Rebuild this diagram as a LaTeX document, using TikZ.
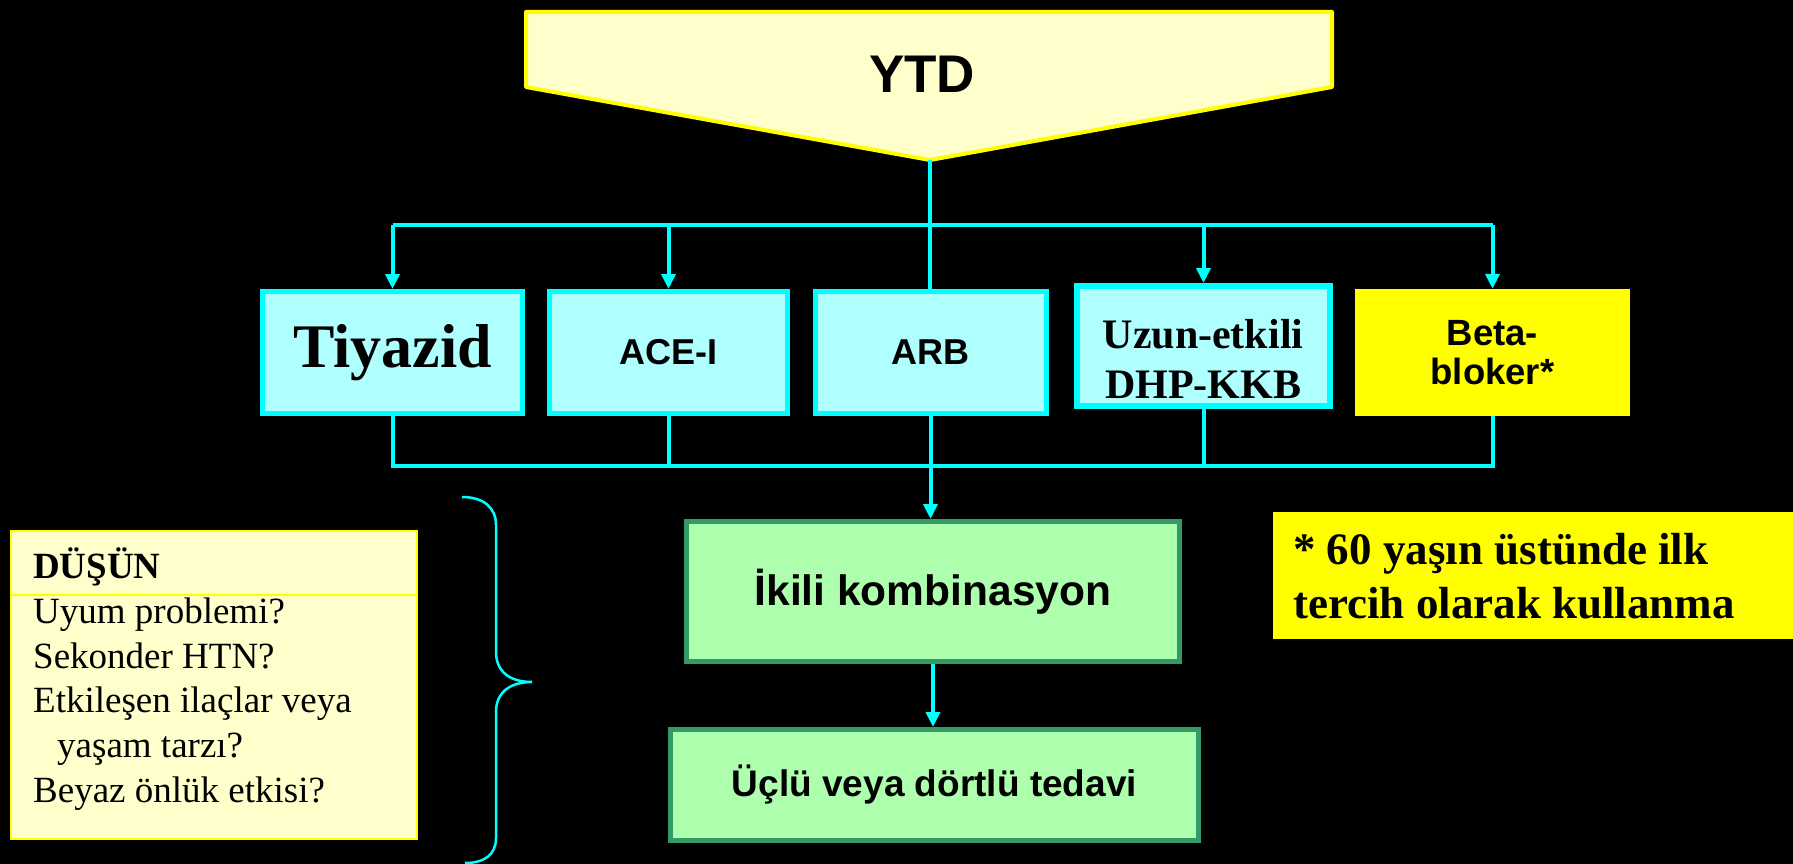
\documentclass[tikz,border=0pt]{standalone}
\usepackage{fontspec}
\setmainfont{Liberation Serif}
\newfontfamily\arialf{Liberation Sans}
\usetikzlibrary{arrows.meta}
\definecolor{cyanline}{HTML}{00FFFF}
\definecolor{cyanfill}{HTML}{B0FFFF}
\definecolor{greenfill}{HTML}{ADFFAD}
\definecolor{greenline}{HTML}{339966}
\definecolor{ytdfill}{HTML}{FFFFCC}
\definecolor{yel}{HTML}{FFFF00}
\definecolor{betainner}{HTML}{FFFF1E}
\tikzset{
  conn/.style={draw=cyanline, line width=4pt},
  arr/.style={conn, -{Triangle[width=14pt,length=15pt]}},
  cbox/.style={draw=cyanline, fill=cyanfill, line width=5pt, inner sep=0pt},
  gbox/.style={draw=greenline, fill=greenfill, line width=5pt, inner sep=0pt},
  sanslab/.style={font=\arialf\bfseries\fontsize{#1}{#1}\selectfont},
  seriflab/.style={font=\bfseries\fontsize{#1}{#1}\selectfont},
  listline/.style={anchor=base west, inner sep=0pt, font=\fontsize{37}{45}\selectfont},
}
\begin{document}
\begin{tikzpicture}[x=1pt,y=-1pt]
\useasboundingbox (0,0) rectangle (1793,864);
\fill[black] (0,0) rectangle (1793,864);

% YTD pentagon
\draw[draw=yel, fill=ytdfill, line width=4pt, line join=round]
  (526,12) -- (1332,12) -- (1332,87) -- (930,160) -- (526,87) -- cycle;
\node[sanslab=53, inner sep=0pt] (ytd) at (922,74) {YTD};
\coordinate (ytdtip) at (930,160);

% drug boxes
\node[cbox, minimum width=260pt, minimum height=122pt, seriflab=62] (tiy) at (392.5,352.5) {Tiyazid};
\node[cbox, minimum width=238pt, minimum height=122pt, sanslab=36] (ace) at (668.5,352.5) {ACE-I};
\node[cbox, minimum width=231pt, minimum height=122pt, sanslab=36] (arb) at (930.5,352.5) {ARB};
\node[cbox, line width=6pt, minimum width=253pt, minimum height=120pt] (uzun) at (1203.5,346) {};
\node[inner sep=0pt, align=center, font=\bfseries\fontsize{42}{50}\selectfont] (uzuntxt) at (1203,359) {Uzun-etkili\\DHP-KKB};
\node[fill=yel, draw=none, minimum width=275pt, minimum height=127pt, inner sep=0pt,
      align=center, font=\arialf\bfseries\fontsize{36.5}{39}\selectfont,
      path picture={\fill[betainner] (1419,310) rectangle (1566,401);}] (beta) at (1492.5,352.5) {Beta-\\bloker*};

% combination boxes
\node[gbox, minimum width=493pt, minimum height=140pt, sanslab=42.5] (ikili) at (933,591.5) {İkili kombinasyon};
\node[gbox, minimum width=528pt, minimum height=111pt, sanslab=37] (uclu) at (934.5,785) {Üçlü veya dörtlü tedavi};

% connectors
\coordinate (bus1) at (930,225);
\coordinate (bus2) at (930,466);
\draw[conn] (ytdtip) -- (ytdtip |- arb.north);
\draw[conn] (tiy.north |- bus1) -- (beta.north |- bus1);
\draw[arr] (tiy.north |- bus1) -- (tiy.north);
\draw[arr] (ace.north |- bus1) -- (ace.north);
\draw[arr] (uzun.north |- bus1) -- (uzun.north);
\draw[arr] (beta.north |- bus1) -- (beta.north);
\draw[conn] (tiy.south) -- (tiy.south |- bus2) -- (beta.south |- bus2) -- (beta.south);
\draw[conn] (ace.south) -- (ace.south |- bus2);
\draw[conn] (uzun.south) -- (uzun.south |- bus2);
\draw[arr] (arb.south) -- (arb.south |- ikili.north);
\draw[arr] (ikili.south) -- (ikili.south |- uclu.north);

% DUSUN box
\node[draw=yel, fill=ytdfill, line width=2.5pt, minimum width=406pt, minimum height=308pt, inner sep=0pt] (dusun) at (214,685) {};
\coordinate (dsep) at (214,595);
\draw[yel, line width=1.5pt] (dsep -| dusun.west) -- (dsep -| dusun.east);
\node[listline, font=\bfseries\fontsize{37}{45}\selectfont] (d0) at (33,578) {DÜŞÜN};
\node[listline] (d1) at (33,623) {Uyum problemi?};
\node[listline] (d2) at (33,668) {Sekonder HTN?};
\node[listline] (d3) at (33,712) {Etkileşen ilaçlar veya};
\node[listline] (d4) at (57,757) {yaşam tarzı?};
\node[listline] (d5) at (33,802) {Beyaz önlük etkisi?};

% brace
\draw[draw=cyanline, line width=2.5pt]
  (462,497) .. controls (484,497) and (496,508) .. (496,525)
  -- (496,652) .. controls (496,670) and (508,682) .. (532,682)
  .. controls (508,682) and (496,694) .. (496,712)
  -- (496,838) .. controls (496,855) and (484,863) .. (465,863);

% footnote box
\node[fill=yel, draw=none, minimum width=520pt, minimum height=127pt, inner sep=0pt] (note) at (1533,575.5) {};
\node[anchor=base west, inner sep=0pt, font=\bfseries\fontsize{45}{54}\selectfont] (n1) at (1293,564) {* 60 yaşın üstünde ilk};
\node[anchor=base west, inner sep=0pt, font=\bfseries\fontsize{45}{54}\selectfont] (n2) at (1293,618) {tercih olarak kullanma};
\end{tikzpicture}
\end{document}
